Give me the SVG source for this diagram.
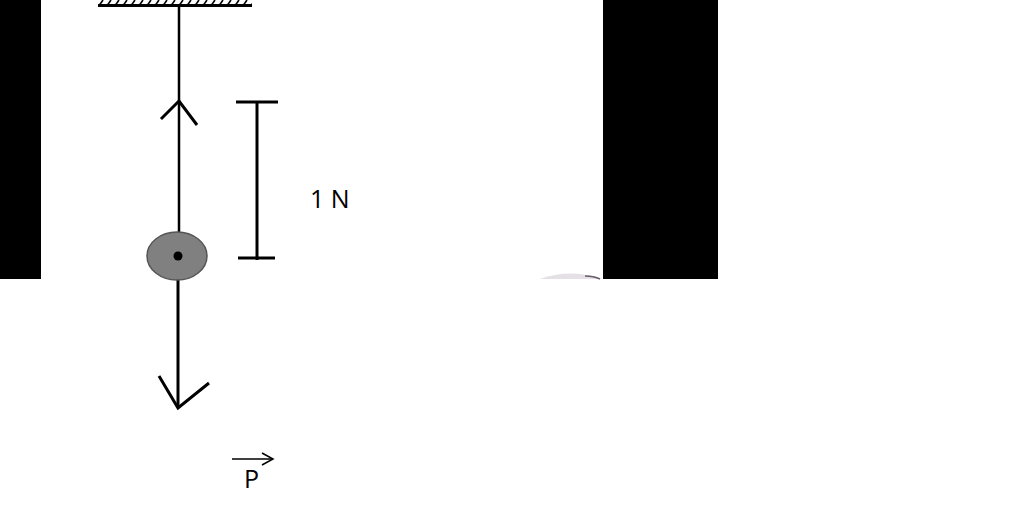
<svg xmlns="http://www.w3.org/2000/svg" width="1024" height="509" viewBox="0 0 1024 509">
<style>
.ln{stroke:#000;stroke-width:3;fill:none;stroke-linecap:butt}
.thin{stroke:#000;stroke-width:2.5;fill:none}
.lbl{font-family:"Open Sans","Liberation Sans",sans-serif;fill:#000}
</style>
<defs>
<pattern id="hatch" x="98" y="0" width="8" height="6" patternUnits="userSpaceOnUse">
<line x1="1.5" y1="5" x2="5" y2="0" stroke="#000" stroke-width="1.6"/>
</pattern>
</defs>
<rect width="1024" height="509" fill="#fff"/>
<rect x="0" y="0" width="41" height="279" fill="#000"/>
<rect x="603" y="0" width="115" height="279" fill="#000"/>
<path d="M540,279 Q570,268 602,279 Z" fill="#e4e0e6"/>
<path d="M585,276 Q594,276 600,279" stroke="#6a5a6a" stroke-width="1.5" fill="none"/>
<g id="support">
<rect x="98" y="0" width="154" height="5" fill="url(#hatch)"/>
<line x1="98" y1="5.5" x2="252" y2="5.5" class="ln"/>
</g>
<g id="connectors">
<line x1="179" y1="6" x2="179" y2="256" class="thin"/>
<polyline points="161,119 179,101 197,125" class="ln"/>
<line x1="178" y1="256" x2="178" y2="408" class="ln" stroke-width="3.5"/>
<polyline points="159,376 178,408 209,383" class="ln" stroke-width="3.5"/>
</g>
<g id="ball">
<ellipse cx="177" cy="256" rx="30" ry="24" fill="#808080" stroke="#555" stroke-width="1.5"/>
<circle cx="178" cy="256" r="4.5" fill="#000"/>
</g>
<g id="scale">
<line x1="257" y1="102" x2="257" y2="260" class="ln"/>
<line x1="236" y1="102" x2="278" y2="102" class="ln"/>
<line x1="238" y1="258" x2="275" y2="258" class="ln"/>
<text x="310" y="208" class="lbl" font-size="25">1 N</text>
</g>
<g id="P">
<line x1="232" y1="459" x2="272" y2="459" stroke="#000" stroke-width="1.5"/>
<polyline points="262,453 273,459 262,465" stroke="#000" stroke-width="1.5" fill="none"/>
<text x="244" y="488" class="lbl" font-size="25">P</text>
</g>
</svg>
